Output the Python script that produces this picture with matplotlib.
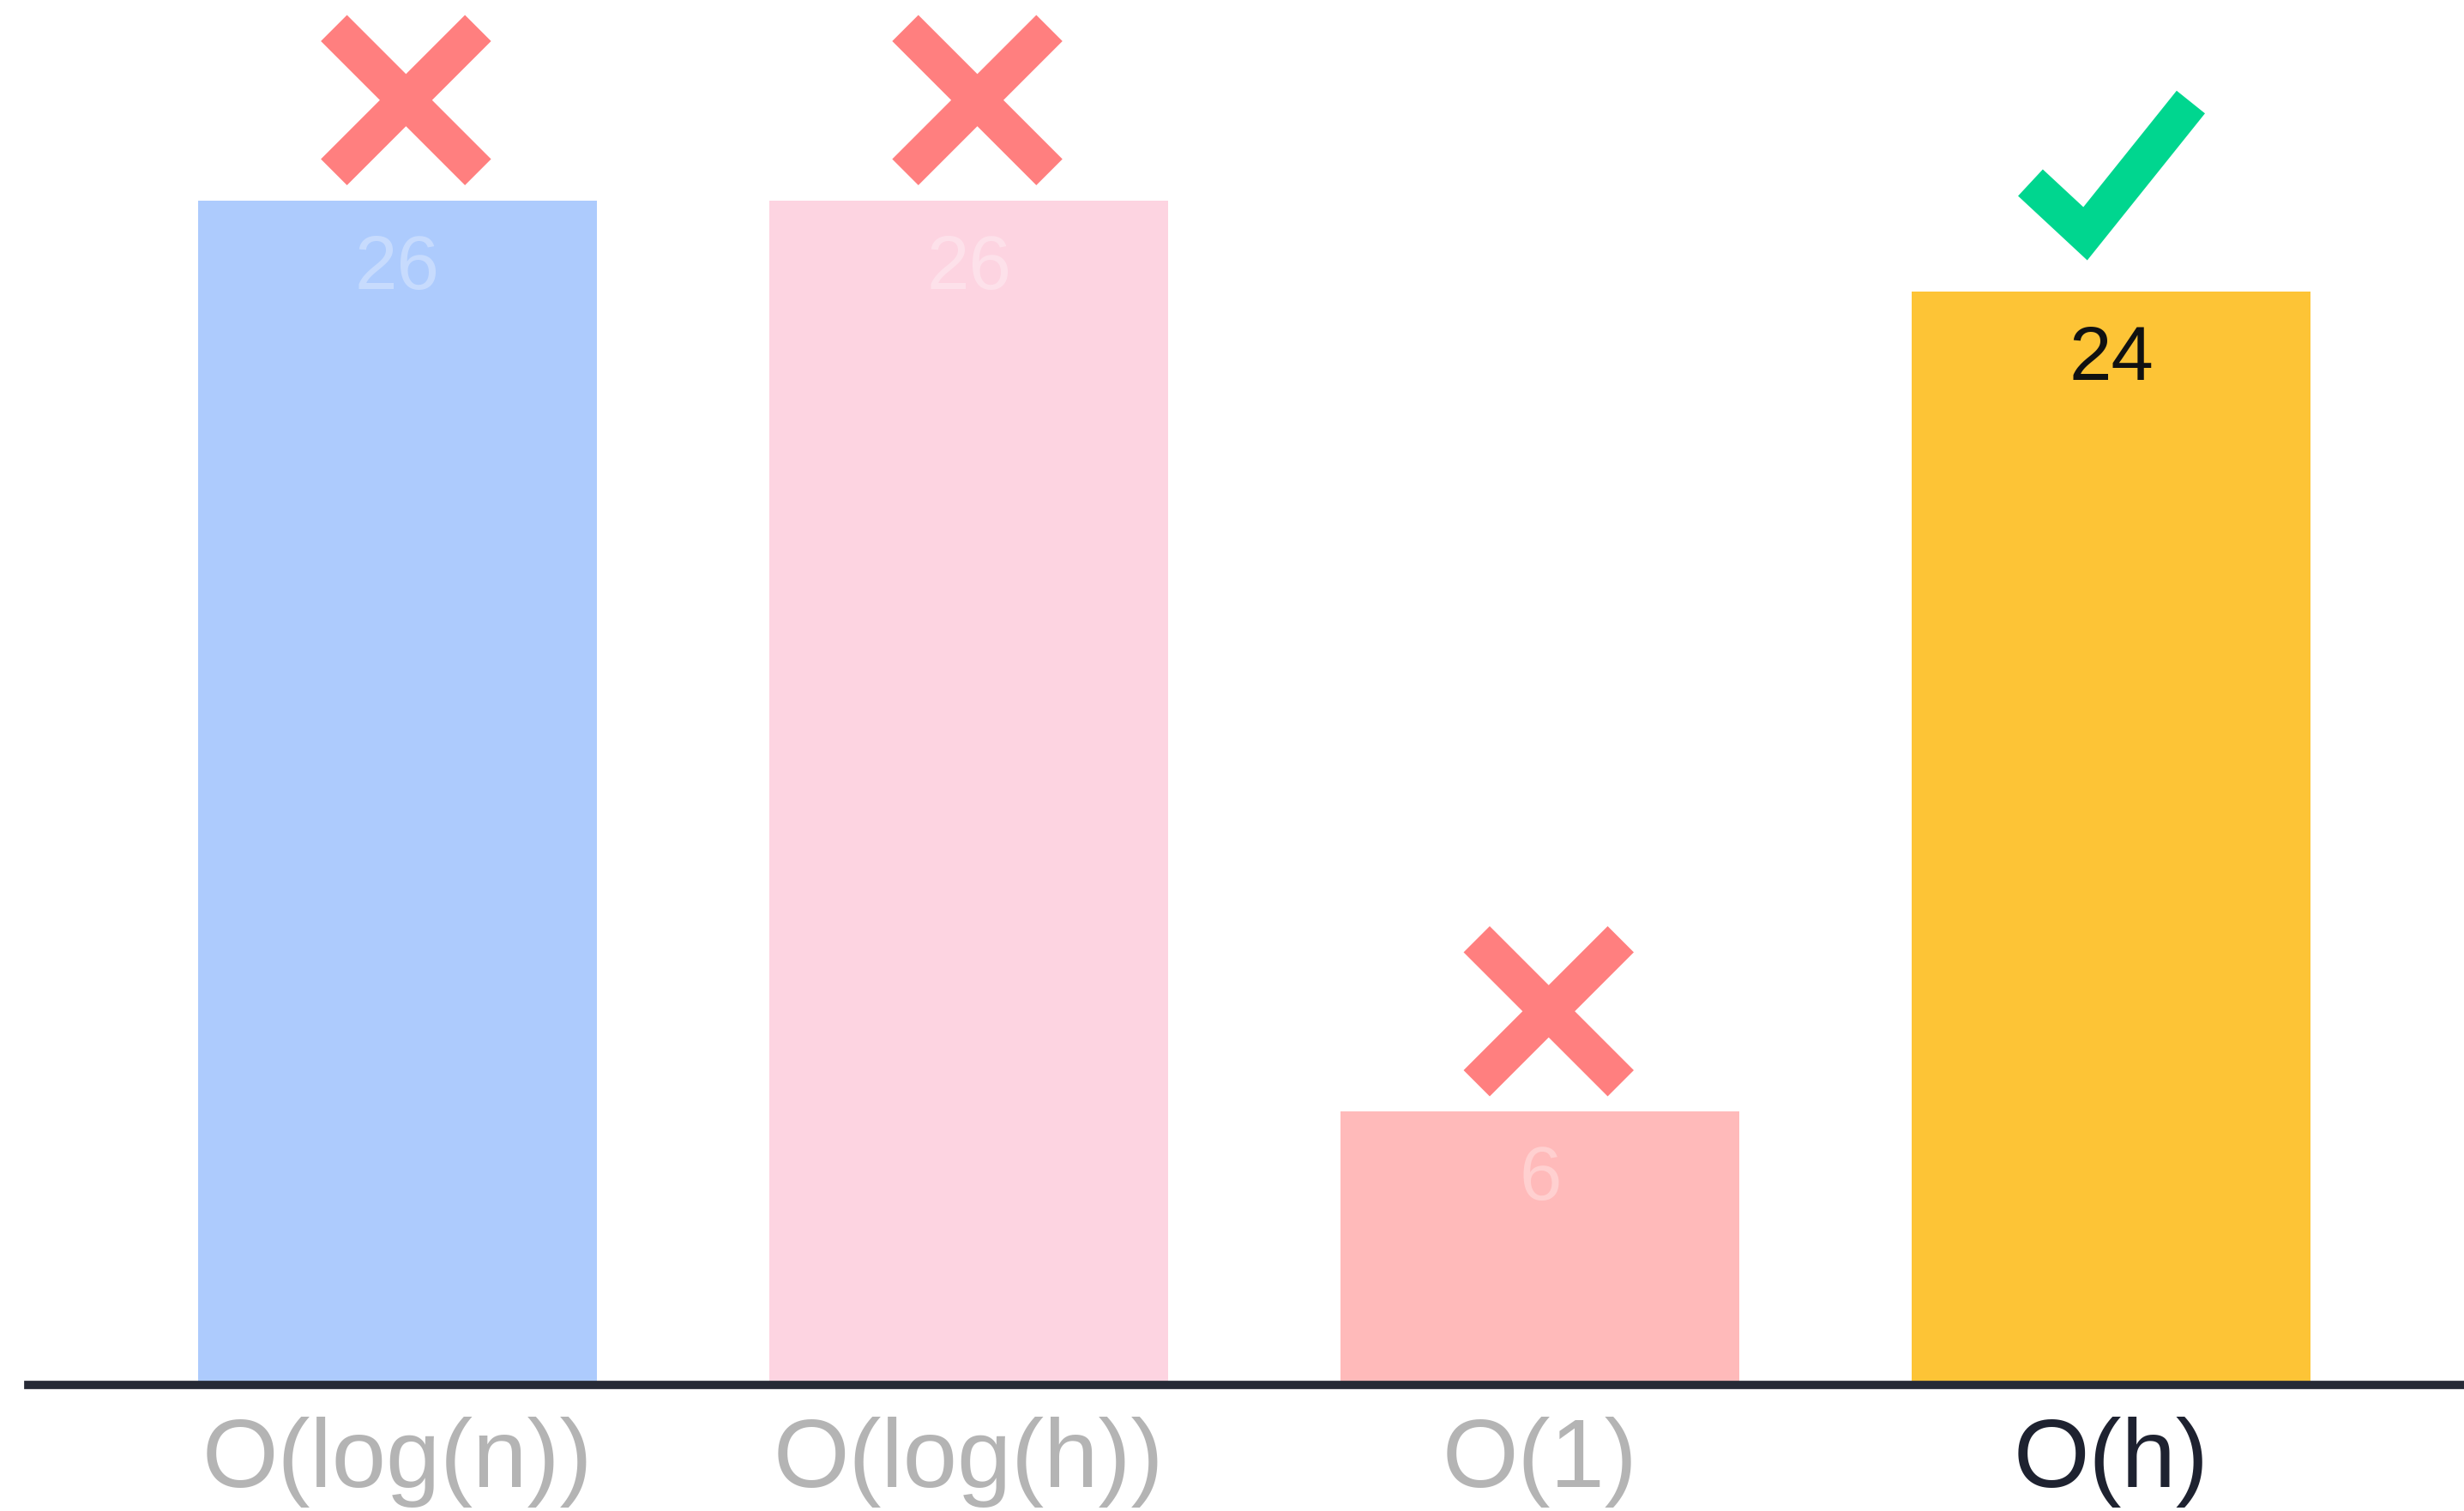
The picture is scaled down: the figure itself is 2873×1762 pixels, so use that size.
import matplotlib
matplotlib.use("Agg")
import matplotlib.pyplot as plt
import matplotlib.transforms as mtransforms

# Data
categories = ["O(log(n))", "O(log(h))", "O(1)", "O(h)"]
values = [26, 26, 6, 24]
correct = [False, False, False, True]

# Styling
bar_colors = ["#adcbfd", "#fdd4e1", "#ffbaba", "#fdc436"]
cross_color = "#ff7f7f"
check_color = "#00d68f"
label_gray = "#b4b4b4"
label_dark = "#1e2230"
axis_color = "#262a36"

plt.rcParams["font.family"] = ["Liberation Sans", "DejaVu Sans"]

DPI = 100
fig = plt.figure(figsize=(28.73, 17.62), dpi=DPI)
ax = fig.add_axes([33 / 2873, 1 - 1615 / 1762, 1 - 33 / 2873, 1615 / 1762])

x = list(range(len(categories)))
bars = ax.bar(x, values, width=0.698, color=bar_colors, zorder=1)

ax.set_xlim(-0.646, 3.617)
ax.set_ylim(0, 30.4)

for s in ["left", "right", "top"]:
    ax.spines[s].set_visible(False)
ax.spines["bottom"].set_color(axis_color)
ax.spines["bottom"].set_linewidth(7)
ax.spines["bottom"].set_zorder(3)
ax.set_yticks([])
ax.set_xticks(x)
ax.set_xticklabels(categories, fontsize=82)
ax.tick_params(axis="x", length=0, pad=27)
for lbl, ok in zip(ax.get_xticklabels(), correct):
    lbl.set_color(label_dark if ok else label_gray)

# Value labels inside the bars
for xi, v, ok in zip(x, values, correct):
    ax.annotate(str(v), (xi, v), xytext=(0, -74), textcoords="offset points",
                ha="center", va="baseline", fontsize=64,
                color="#111111" if ok else "white",
                alpha=1.0 if ok else 0.32, zorder=4)

# Cross / check marks above the bars, drawn in inch offsets from each bar top
for xi, v, ok in zip(x, values, correct):
    anchor = fig.dpi_scale_trans + mtransforms.ScaledTranslation(xi, v, ax.transData)
    if ok:
        xs = [-0.945, -0.305, 0.925]
        ys = [1.27, 0.675, 2.21]
        ax.plot(xs, ys, color=check_color, lw=30.5, solid_capstyle="butt",
                solid_joinstyle="miter", transform=anchor, clip_on=False, zorder=5)
    else:
        cx, cy, h = 0.10, 1.17, 0.84
        for sgn in (1, -1):
            ax.plot([cx - h, cx + h], [cy - sgn * h, cy + sgn * h], color=cross_color,
                    lw=31, solid_capstyle="butt", transform=anchor,
                    clip_on=False, zorder=5)

fig.savefig("out.png", dpi=DPI, facecolor="white")
